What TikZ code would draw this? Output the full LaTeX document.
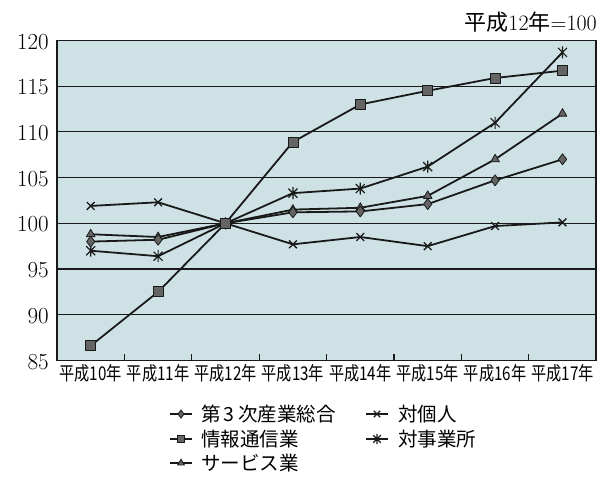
\documentclass[tikz,border=0pt]{standalone}
\usepackage{fontspec}
\usetikzlibrary{plotmarks}
\newfontfamily\jp{Noto Sans CJK JP}
\newfontfamily\jpn[FakeStretch=0.8]{Noto Sans CJK JP}
\definecolor{plotbg}{RGB}{206,226,230}
\definecolor{markgray}{RGB}{100,100,100}
\definecolor{ink}{RGB}{25,25,25}
\pgfdeclareplotmark{xstar}{%
  \pgfpathmoveto{\pgfqpoint{0pt}{\pgfplotmarksize}}%
  \pgfpathlineto{\pgfqpoint{0pt}{-\pgfplotmarksize}}%
  \pgfpathmoveto{\pgfqpoint{.75\pgfplotmarksize}{.75\pgfplotmarksize}}%
  \pgfpathlineto{\pgfqpoint{-.75\pgfplotmarksize}{-.75\pgfplotmarksize}}%
  \pgfpathmoveto{\pgfqpoint{-.75\pgfplotmarksize}{.75\pgfplotmarksize}}%
  \pgfpathlineto{\pgfqpoint{.75\pgfplotmarksize}{-.75\pgfplotmarksize}}%
  \pgfusepathqstroke}
\begin{document}
\begin{tikzpicture}[x=1pt,y=-1pt,
  series/.style={draw=ink, line width=1.8pt, line join=round},
  gridln/.style={draw=ink, line width=1.1pt},
  ylab/.style={anchor=east, font=\fontsize{23}{23}\selectfont, inner sep=0pt},
  xlab/.style={anchor=north, font=\jpn\fontsize{19}{19}\selectfont, inner sep=0pt},
  leg/.style={anchor=west, font=\jp\fontsize{19.5}{19.5}\selectfont, inner sep=0pt},
  mdiam/.style={mark=diamond*, mark size=5.5pt, mark options={fill=markgray, draw=ink, line width=0.8pt}},
  msq/.style={mark=square*, mark size=5pt, mark options={fill=markgray, draw=ink, line width=0.8pt}},
  mtri/.style={mark=triangle*, mark size=5pt, mark options={fill=markgray, draw=ink, line width=0.8pt}},
  mx/.style={mark=x, mark size=5.5pt, mark options={draw=ink, line width=1.3pt}},
  mst/.style={mark=xstar, mark size=6pt, mark options={draw=ink, line width=1.2pt}}
]
\useasboundingbox (0,0) rectangle (601,481);
\fill[white] (0,0) rectangle (601,481);
% plot area
\fill[plotbg] (57,40.5) rectangle (596,360.4);
\foreach \v in {90,95,100,105,110,115}{
  \draw[gridln] (57,{223.3-9.14*(\v-100)}) -- (596,{223.3-9.14*(\v-100)});
}
\draw[ink, line width=1.3pt] (57,40.5) rectangle (596,360.4);
\foreach \k in {1,...,7}{
  \draw[gridln] ({57+67.4*\k},360.4) -- ({57+67.4*\k},353.5);
}
% y labels
\foreach \v/\nm in {85/a,90/b,95/c,100/d,105/e,110/f,115/g,120/h}{
  \node[ylab] (y\nm) at (49,{224.5-9.14*(\v-100)}) {\v};
}
% x labels
\foreach \i/\t in {1/10,2/11,3/12,4/13,5/14,6/15,7/16,8/17}{
  \node[xlab] (x\i) at ({23.3+67.4*\i},364) {平成\t 年};
}
% unit label
\node[anchor=east, inner sep=0pt, font=\fontsize{22}{22}\selectfont] (unit) at (597,22) {{\jp 平成}12{\jp 年}=100};
% series
\begin{scope}[shift={(23.3pt,-1137.3pt)}, x=67.4pt, y=9.14pt]
\draw[series, mx] plot coordinates {(1,101.9) (2,102.3) (3,100) (4,97.7) (5,98.5) (6,97.5) (7,99.7) (8,100.1)};
\draw[series, mst] plot coordinates {(1,97.0) (2,96.4) (3,100) (4,103.3) (5,103.8) (6,106.2) (7,111.0) (8,118.7)};
\draw[series, mtri] plot coordinates {(1,98.8) (2,98.5) (3,100) (4,101.5) (5,101.7) (6,103.0) (7,107.0) (8,112.0)};
\draw[series, mdiam] plot coordinates {(1,98.0) (2,98.2) (3,100) (4,101.2) (5,101.3) (6,102.1) (7,104.7) (8,107.0)};
\draw[series, msq] plot coordinates {(1,86.6) (2,92.5) (3,100) (4,108.9) (5,113.0) (6,114.5) (7,115.9) (8,116.7)};
\end{scope}
% legend
\coordinate (l1a) at (170,414); \coordinate (l1b) at (192,414);
\coordinate (l2a) at (170,439); \coordinate (l2b) at (192,439);
\coordinate (l3a) at (170,463); \coordinate (l3b) at (192,463);
\coordinate (l4a) at (366,414); \coordinate (l4b) at (388,414);
\coordinate (l5a) at (366,439); \coordinate (l5b) at (388,439);
\draw[series, line width=1.5pt] (l1a) -- (l1b);
\draw[series, line width=1.5pt] (l2a) -- (l2b);
\draw[series, line width=1.5pt] (l3a) -- (l3b);
\draw[series, line width=1.5pt] (l4a) -- (l4b);
\draw[series, line width=1.5pt] (l5a) -- (l5b);
\path[mdiam, mark size=4pt] plot coordinates {(181,414)};
\path[msq, mark size=3.8pt] plot coordinates {(181,439)};
\path[mtri, mark size=3.8pt] plot coordinates {(181,463)};
\path[mx, mark size=4.5pt] plot coordinates {(377,414)};
\path[mst, mark size=5pt] plot coordinates {(377,439)};
\node[leg] (t1) at (201,414) {第\,3\,次産業総合};
\node[leg] (t2) at (201,439) {情報通信業};
\node[leg] (t3) at (201,463) {サービス業};
\node[leg] (t4) at (398,414) {対個人};
\node[leg] (t5) at (398,439) {対事業所};
\end{tikzpicture}
\end{document}
